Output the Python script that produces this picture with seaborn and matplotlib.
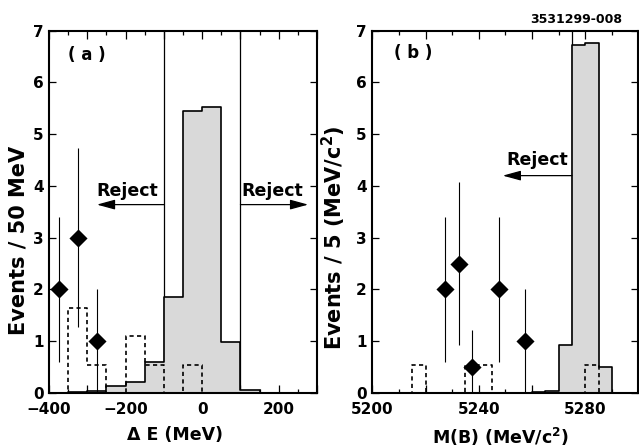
import numpy as np
import pandas as pd
import matplotlib
matplotlib.use("Agg")
import matplotlib.pyplot as plt
from matplotlib.ticker import MultipleLocator, FuncFormatter
import seaborn as sns

# ---------------- data ----------------
# panel (a): Delta E, 50 MeV bins
edges_a = [-400, -350, -300, -250, -200, -150, -100, -50, 0, 50, 100, 150, 200, 250, 300]
mc_a = [0.0, 0.01, 0.03, 0.13, 0.22, 0.60, 1.85, 5.45, 5.53, 0.98, 0.05, 0.0, 0.0, 0.0]
bkg_a = [0.0, 1.65, 0.55, 0.0, 1.10, 0.55, 0.0, 0.55, 0.0, 0.0, 0.0, 0.0, 0.0, 0.0]
pts_a_x = [-375, -325, -275]
pts_a_y = [2, 3, 1]
pts_a_err = [1.41, 1.73, 1.0]

# panel (b): M(B), 5 MeV/c^2 bins
edges_b = [5200, 5205, 5210, 5215, 5220, 5225, 5230, 5235, 5240, 5245, 5250,
           5255, 5260, 5265, 5270, 5275, 5280, 5285, 5290, 5295, 5300]
mc_b = [0, 0, 0, 0, 0, 0, 0, 0, 0, 0, 0, 0, 0.01, 0.04, 0.93, 6.72, 6.77, 0.50, 0, 0]
bkg_b = [0, 0, 0, 0.55, 0, 0, 0, 0.55, 0.55, 0, 0, 0, 0, 0, 0, 0, 0.55, 0, 0, 0]
pts_b_x = [5227.5, 5232.5, 5237.5, 5247.5, 5257.5]
pts_b_y = [2, 2.5, 0.5, 2, 1]
pts_b_err = [1.41, 1.58, 0.71, 1.41, 1.0]

# ---------------- style ----------------
sns.set_style("ticks")
plt.rcParams["font.family"] = ["DejaVu Sans"]
plt.rcParams["font.weight"] = "bold"
plt.rcParams["mathtext.default"] = "bf"
plt.rcParams["axes.linewidth"] = 1.5
for k in ("text.color", "axes.labelcolor", "xtick.color", "ytick.color", "axes.edgecolor"):
    plt.rcParams[k] = "black"

GRAY = "#d9d9d9"
DASH = (0, (2.5, 2.0))

fig = plt.figure(figsize=(6.39, 4.47), dpi=100)
ax1 = fig.add_axes([0.0767, 0.1208, 0.4194, 0.8105])
ax2 = fig.add_axes([0.5826, 0.1208, 0.4166, 0.8105])


def centers(edges):
    e = np.asarray(edges, float)
    return (e[:-1] + e[1:]) / 2


def draw_panel(ax, edges, mc, bkg, px, py, perr):
    sns.histplot(x=centers(edges), weights=mc, bins=edges, element="step", fill=True,
                 color=GRAY, facecolor=GRAY, edgecolor="black", alpha=1, linewidth=1.2,
                 ax=ax, zorder=2)
    sns.histplot(x=centers(edges), weights=bkg, bins=edges, element="step", fill=False,
                 color="black", linestyle=DASH, linewidth=1.2, ax=ax, zorder=3)
    ax.errorbar(px, py, yerr=perr, fmt="none", ecolor="black", elinewidth=0.8, zorder=4)
    sns.scatterplot(x=px, y=py, marker="D", s=85, color="black", edgecolor="black",
                    linewidth=0, ax=ax, zorder=5)


draw_panel(ax1, edges_a, mc_a, bkg_a, pts_a_x, pts_a_y, pts_a_err)
draw_panel(ax2, edges_b, mc_b, bkg_b, pts_b_x, pts_b_y, pts_b_err)

# ---------------- axes ----------------
def fmt_every(step):
    def f(v, pos):
        if abs(round(v / step) * step - v) < 1e-6:
            return f"{int(round(v))}".replace("-", "\u2212")
        return ""
    return FuncFormatter(f)


for ax in (ax1, ax2):
    ax.set_ylim(0, 7)
    ax.yaxis.set_major_locator(MultipleLocator(1))
    ax.tick_params(which="both", direction="in", top=True, right=True,
                   labelsize=11, width=0.9, colors="black")
    ax.tick_params(axis="x", which="major", length=6, pad=6.5)
    ax.tick_params(axis="x", which="minor", length=3)
    ax.tick_params(axis="y", which="major", length=5, pad=4)
    for s in ax.spines.values():
        s.set_linewidth(1.5)
        s.set_visible(True)
        s.set_color("black")

ax1.set_xlim(-400, 300)
ax1.xaxis.set_major_locator(MultipleLocator(100))
ax1.xaxis.set_minor_locator(MultipleLocator(50))
ax1.xaxis.set_major_formatter(fmt_every(200))

ax2.set_xlim(5200, 5300)
ax2.xaxis.set_major_locator(MultipleLocator(20))
ax2.xaxis.set_minor_locator(MultipleLocator(10))
ax2.xaxis.set_major_formatter(fmt_every(40))

for ax in (ax1, ax2):
    for lab in ax.get_xticklabels() + ax.get_yticklabels():
        lab.set_fontweight("bold")

ax1.set_ylabel("Events / 50 MeV", fontsize=15, fontweight="bold")
ax2.set_ylabel("Events / 5 (MeV/c$^{2}$)", fontsize=15, fontweight="bold")
ax1.set_xlabel("\u0394 E (MeV)", fontsize=12.5, fontweight="bold")
ax2.set_xlabel("M(B) (MeV/c$^{2}$)", fontsize=12.5, fontweight="bold")
ax1.yaxis.set_label_coords(-0.078, 0.42)
ax2.yaxis.set_label_coords(-0.091, 0.43)
ax1.xaxis.set_label_coords(0.47, -0.09)
ax2.xaxis.set_label_coords(0.48, -0.09)

# ---------------- annotations ----------------
arrow = dict(arrowstyle="-|>,head_length=1.1,head_width=0.3", color="black",
             lw=0.9, shrinkA=0, shrinkB=0)

ax1.axvline(-100, color="black", lw=0.9, zorder=1)
ax1.axvline(100, color="black", lw=0.9, zorder=1)
ax1.annotate("", xy=(-275, 3.64), xytext=(-100, 3.64), arrowprops=arrow)
ax1.annotate("", xy=(277, 3.64), xytext=(100, 3.64), arrowprops=arrow)
ax1.text(-196, 3.80, "Reject", ha="center", va="baseline", fontsize=12.5, fontweight="bold")
ax1.text(184, 3.80, "Reject", ha="center", va="baseline", fontsize=12.5, fontweight="bold")
ax1.text(-302, 6.54, "( a )", ha="center", va="center", fontsize=12, fontweight="bold")

ax2.axvline(5275, color="black", lw=0.9, zorder=1)
ax2.annotate("", xy=(5249, 4.2), xytext=(5275, 4.2), arrowprops=arrow)
ax2.text(5262, 4.40, "Reject", ha="center", va="baseline", fontsize=12.5, fontweight="bold")
ax2.text(5215.4, 6.57, "( b )", ha="center", va="center", fontsize=12, fontweight="bold")

fig.text(0.901, 0.956, "3531299-008", ha="center", va="center", fontsize=9, fontweight="bold")

fig.savefig("out.png", dpi=100)
